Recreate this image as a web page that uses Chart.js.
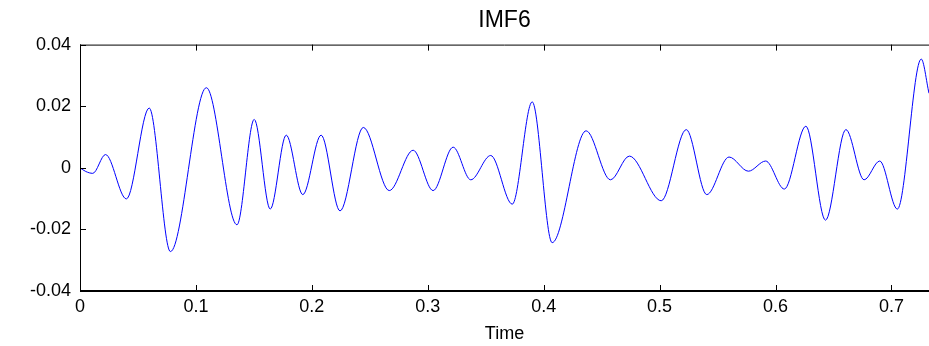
<!DOCTYPE html>
<html lang="en">
<head>
    <meta charset="UTF-8">
    <title>IMF6</title>
    <script src="https://cdn.jsdelivr.net/npm/chart.js@4.4.1/dist/chart.umd.min.js"></script>
    <style>
        body { margin: 0; background: #fff; }
        #imfChart { display: block; }
    </style>
</head>
<body>
<canvas id="imfChart" width="929" height="346"></canvas>

<script>
    // values (extrema + a few shape points)
    const timeValues = [0, 0.005, 0.011, 0.022, 0.040, 0.0597, 0.078, 0.109, 0.1354, 0.1503,
        0.1641, 0.1779, 0.1922, 0.208, 0.2243, 0.2444, 0.2668, 0.2874, 0.3046, 0.3219,
        0.3371, 0.3543, 0.3729, 0.3901, 0.4073, 0.4366, 0.4576, 0.4739, 0.5014, 0.523,
        0.5407, 0.5599, 0.5766, 0.5915, 0.6076, 0.6262, 0.6431, 0.6607, 0.6764, 0.6899,
        0.7051, 0.7257, 0.7324];
    const imfValues = [0, -0.0012, -0.0018, 0.0043, -0.0101, 0.0194, -0.0272, 0.026, -0.0185, 0.0157,
        -0.0134, 0.0106, -0.0087, 0.0106, -0.014, 0.0131, -0.0074, 0.0057, -0.0074, 0.0067,
        -0.0039, 0.004, -0.0118, 0.0214, -0.0243, 0.012, -0.0039, 0.0038, -0.0107, 0.0124,
        -0.0087, 0.0035, -0.0011, 0.0022, -0.0069, 0.0135, -0.017, 0.0124, -0.0039, 0.0022,
        -0.0134, 0.0353, 0.0242];
    const xTickLabels = ['0', '0.1', '0.2', '0.3', '0.4', '0.5', '0.6', '0.7'];
    const yTickLabels = ['-0.04', '-0.02', '0', '0.02', '0.04'];

    const FONT = "'Liberation Sans', Arial, sans-serif";

    // matlab style frame: inward ticks, box on top/left/bottom
    const matlabFrame = {
        id: 'matlabFrame',
        afterDraw(chart) {
            const ctx = chart.ctx;
            const a = chart.chartArea;
            const xs = chart.scales.x;
            const ys = chart.scales.y;
            const len = 6;
            ctx.save();
            ctx.strokeStyle = '#000';
            ctx.lineWidth = 1;
            ctx.beginPath();
            ctx.moveTo(a.left + 0.5, a.top);
            ctx.lineTo(a.left + 0.5, a.bottom);
            ctx.moveTo(a.left, a.top + 0.5);
            ctx.lineTo(a.right, a.top + 0.5);
            xs.ticks.forEach(t => {
                const px = Math.round(xs.getPixelForValue(t.value)) + 0.5;
                ctx.moveTo(px, a.top);
                ctx.lineTo(px, a.top + len);
                ctx.moveTo(px, a.bottom);
                ctx.lineTo(px, a.bottom - len);
            });
            ys.ticks.forEach(t => {
                const py = Math.round(ys.getPixelForValue(t.value)) + 0.5;
                ctx.moveTo(a.left, py);
                ctx.lineTo(a.left + len, py);
            });
            ctx.stroke();
            ctx.lineWidth = 2;
            ctx.beginPath();
            ctx.moveTo(a.left, a.bottom);
            ctx.lineTo(a.right, a.bottom);
            ctx.stroke();
            ctx.restore();
        }
    };

    new Chart(document.getElementById('imfChart'), {
        type: 'line',
        data: {
            datasets: [{
                data: timeValues.map((t, i) => ({ x: t, y: imfValues[i] })),
                borderColor: '#0000ff',
                borderWidth: 1,
                pointRadius: 0,
                fill: false,
                cubicInterpolationMode: 'monotone'
            }]
        },
        options: {
            responsive: false,
            animation: false,
            layout: { padding: { left: 0, right: 0, top: 0, bottom: 0 } },
            plugins: {
                legend: { display: false },
                tooltip: { enabled: false },
                title: {
                    display: true,
                    fullSize: false,
                    text: 'IMF6',
                    color: '#000',
                    font: { family: FONT, size: 23, weight: 'normal' },
                    padding: { top: 7, bottom: 10 }
                }
            },
            scales: {
                x: {
                    type: 'linear',
                    min: 0,
                    max: 0.7324,
                    grid: { display: false, drawTicks: false },
                    border: { display: false },
                    afterFit: (scale) => { scale.height = 55; },
                    ticks: {
                        stepSize: 0.1,
                        includeBounds: false,
                        maxRotation: 0,
                        padding: 5,
                        color: '#000',
                        font: { family: FONT, size: 18 },
                        callback: (v) => xTickLabels[Math.round(v * 10)]
                    },
                    title: {
                        display: true,
                        text: 'Time',
                        color: '#000',
                        font: { family: FONT, size: 18 },
                        padding: { top: 4, bottom: 1 }
                    }
                },
                y: {
                    min: -0.04,
                    max: 0.04,
                    grid: { display: false, drawTicks: false },
                    border: { display: false },
                    afterFit: (scale) => { scale.width = 80; },
                    ticks: {
                        stepSize: 0.02,
                        padding: 9,
                        color: '#000',
                        font: { family: FONT, size: 18 },
                        callback: (v) => yTickLabels[Math.round((v + 0.04) / 0.02)]
                    }
                }
            }
        },
        plugins: [matlabFrame]
    });
</script>
</body>
</html>
